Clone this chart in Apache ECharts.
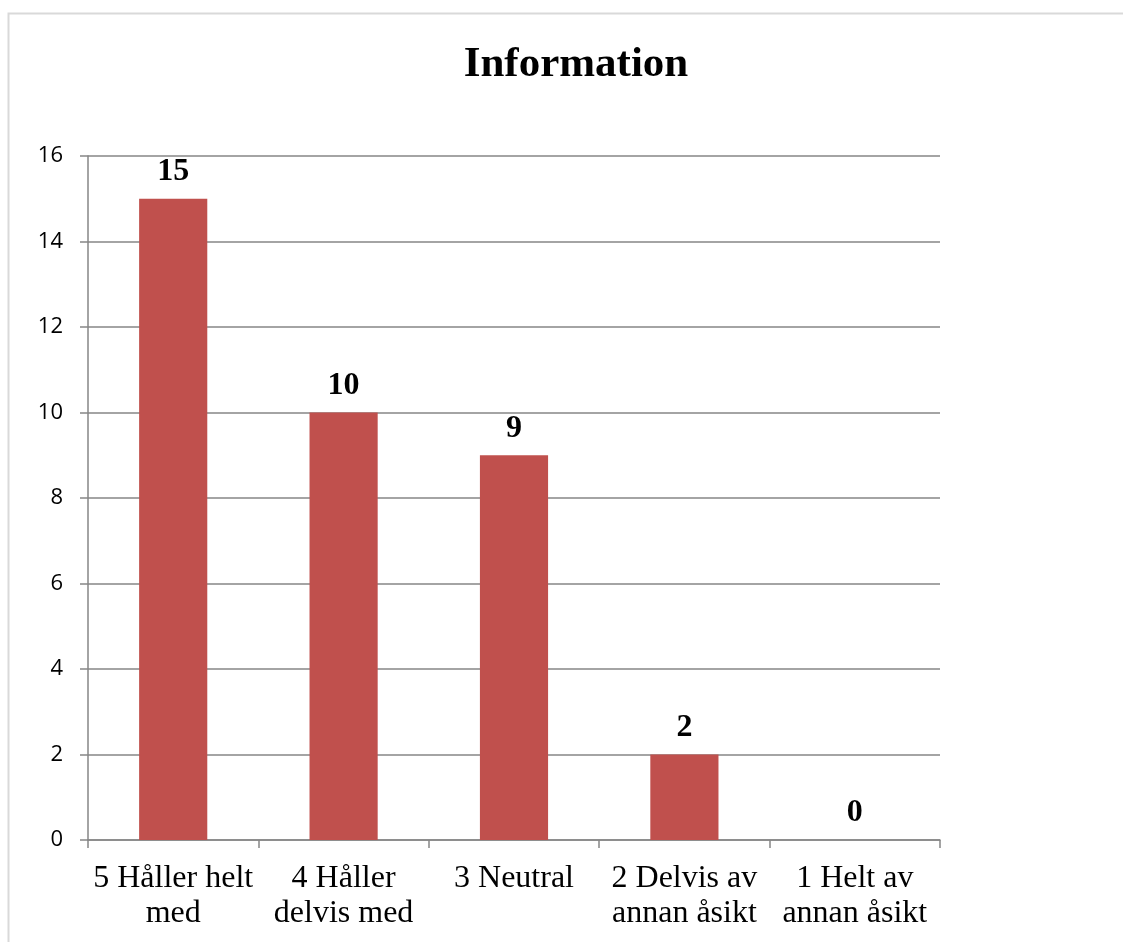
<!DOCTYPE html>
<html><head><meta charset="utf-8">
<script src="https://cdn.jsdelivr.net/npm/echarts@6/dist/echarts.min.js"></script>
<style>html,body{margin:0;padding:0;background:#fff}#c{width:1123px;height:942px}</style>
</head><body><div id="c"></div>
<script>
const categories = ["5 Håller helt\nmed", "4 Håller\ndelvis med", "3 Neutral", "2 Delvis av\nannan åsikt", "1 Helt av\nannan åsikt"];
const values = [15, 10, 9, 2, 0];
const yTicks = [0, 2, 4, 6, 8, 10, 12, 14, 16];
const titleText = "Information";

const chart = echarts.init(document.getElementById('c'), null, {renderer: 'canvas'});
chart.setOption({
  animation: false,
  backgroundColor: '#fff',
  graphic: [{
    type: 'polyline', silent: true,
    shape: {points: [[8.5, 942], [8.5, 13.5], [1123, 13.5]]},
    style: {stroke: '#d9d9d9', lineWidth: 2, fill: null}
  }],
  title: {
    text: titleText, left: 571, textAlign: 'center', top: 38,
    textStyle: {fontFamily: 'Liberation Serif', fontWeight: 'bold', fontSize: 43, color: '#000'}
  },
  grid: {left: 88, right: 183, top: 156, bottom: 102, containLabel: false},
  xAxis: {
    type: 'category', data: categories,
    axisLine: {lineStyle: {color: '#868686', width: 1.5}},
    axisTick: {show: true, length: 8, alignWithLabel: false, lineStyle: {color: '#868686', width: 1.5}},
    axisLabel: {fontFamily: 'Liberation Serif', fontSize: 32, color: '#000', lineHeight: 35, margin: 21, interval: 0}
  },
  yAxis: {
    type: 'value', min: yTicks[0], max: yTicks[yTicks.length - 1], interval: 2,
    axisLine: {show: true, lineStyle: {color: '#868686', width: 1.5}},
    axisTick: {show: true, length: 8, lineStyle: {color: '#868686', width: 1.5}},
    splitLine: {lineStyle: {color: '#868686', width: 1.5}},
    axisLabel: {fontFamily: 'Open Sans', fontSize: 22, color: '#000', margin: 25}
  },
  series: [{
    type: 'bar', data: values, barWidth: '40%',
    itemStyle: {color: '#C0504D'},
    label: {show: true, position: 'top', distance: 11, fontFamily: 'Liberation Serif', fontWeight: 'bold', fontSize: 32, color: '#000'}
  }]
});
</script></body></html>
